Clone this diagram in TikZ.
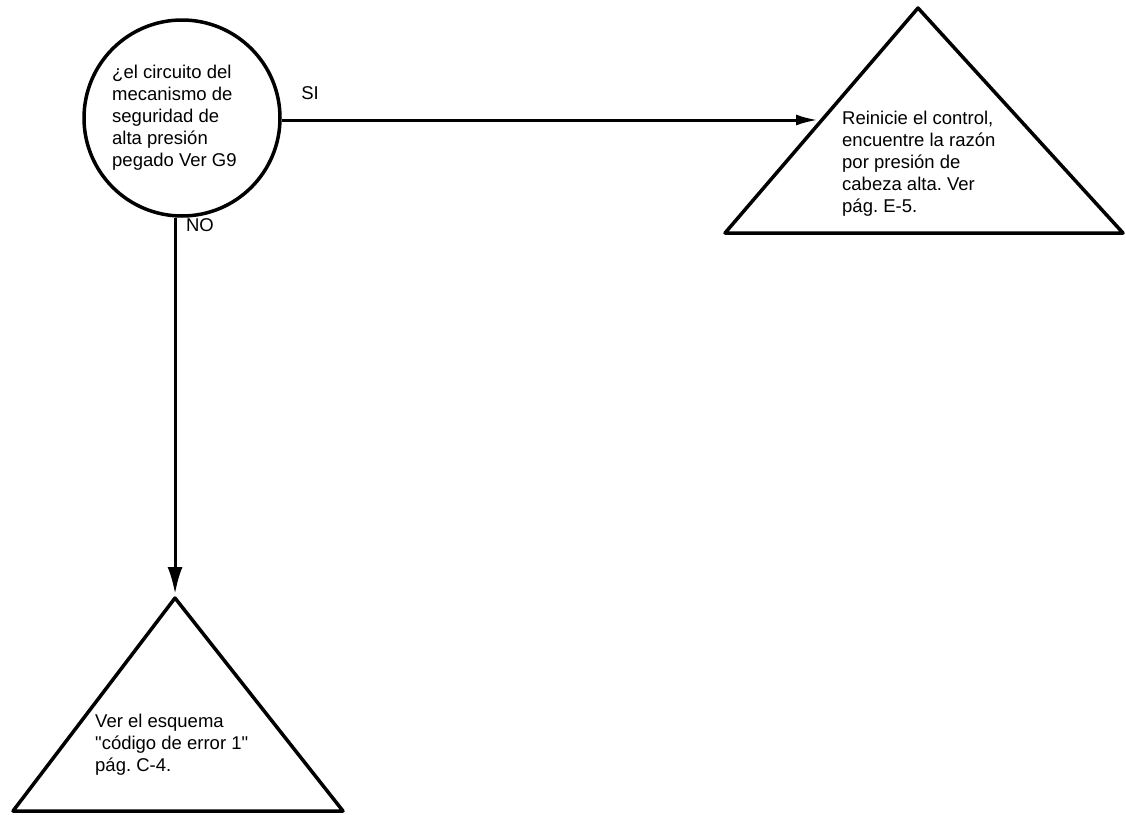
\documentclass[tikz,border=0pt]{standalone}
\usepackage{fontspec}
\setmainfont{Liberation Sans}
\usetikzlibrary{arrows.meta}
\frenchspacing
\begin{document}
\begin{tikzpicture}[x=1pt,y=-1pt,
  decision/.style={draw, circle, line width=3.5pt, minimum size=196pt, inner sep=0pt},
  endbox/.style={draw, line width=3.5pt, line join=round},
  txt/.style={font=\fontsize{18.5}{22}\selectfont, align=left, inner sep=0pt, anchor=west},
  lbl/.style={font=\fontsize{18.5}{20}\selectfont, inner sep=0pt},
  flow/.style={line width=3pt},
]
\useasboundingbox (0,0) rectangle (1126,814);

% decision circle
\node[decision] (q) at (182,118) {};
\node[txt] (qt) at (112,118) {¿el circuito del\\ mecanismo de\\ seguridad de\\ alta presión\\ pegado Ver G9};

% terminal triangles
\coordinate (ra) at (918,8);
\coordinate (rl) at (725,233);
\coordinate (rr) at (1123,233);
\draw[endbox] (ra) -- (rr) -- (rl) -- cycle;
\node[txt] (rt) at (842,164) {Reinicie el control,\\ encuentre la razón\\ por presión de\\ cabeza alta. Ver\\ pág. E-5.};

\coordinate (ba) at (175,598);
\coordinate (bl) at (13,811);
\coordinate (br) at (343,811);
\draw[endbox] (ba) -- (br) -- (bl) -- cycle;
\node[txt] (bt) at (95,745) {Ver el esquema\\ \textquotedbl código de error 1\textquotedbl\\ pág. C-4.};

% connectors
\coordinate (rin) at (818,120);
\coordinate (bin) at (175,594);
\draw[flow, -{Latex[length=22pt,width=11pt]}] (q.east |- rin) -- (rin);
\draw[flow, -{Latex[length=27pt,width=15pt]}] (q.-94) -- (q.-94 |- bin);

% branch labels
\node[lbl] (si) at (310,93) {SI};
\node[lbl] (no) at (200,225) {NO};
\end{tikzpicture}
\end{document}
